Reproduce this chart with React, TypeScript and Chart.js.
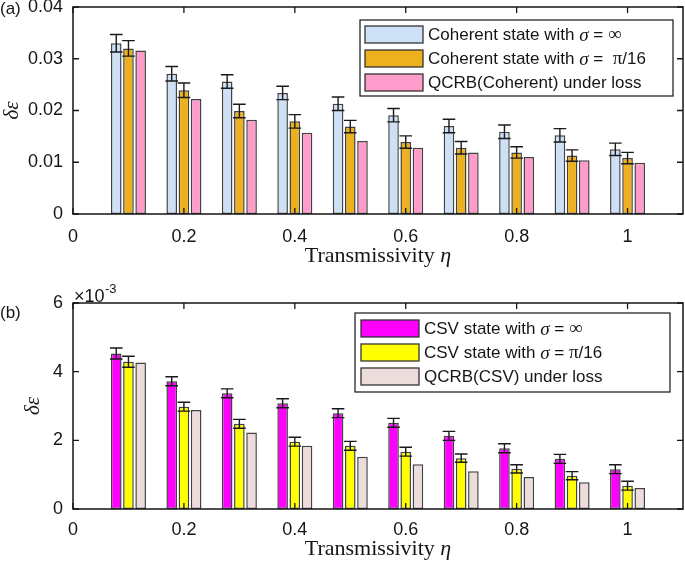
import React, { useEffect, useRef } from 'react';
import { Chart, registerables } from 'chart.js';

Chart.register(...registerables);

// ---------- data ----------
const ETA = [0.1, 0.2, 0.3, 0.4, 0.5, 0.6, 0.7, 0.8, 0.9, 1.0];
const X_TICKS = [0, 0.2, 0.4, 0.6, 0.8, 1];
const X_TITLE = ['Transmissivity ', 'η'];
const Y_TITLE = 'δε';

// Panel (a)
const COH_INF = [0.0330, 0.0271, 0.0256, 0.0234, 0.0213, 0.0191, 0.0170, 0.0159, 0.0152, 0.0125];
const COH_INF_ERR = [0.0017, 0.0014, 0.0013, 0.0013, 0.0013, 0.0013, 0.0013, 0.0013, 0.0013, 0.0012];
const COH_PI16 = [0.0320, 0.0239, 0.0199, 0.0179, 0.0169, 0.0139, 0.0128, 0.0119, 0.0113, 0.0108];
const COH_PI16_ERR = [0.0015, 0.0014, 0.0013, 0.0013, 0.0012, 0.0012, 0.0012, 0.0011, 0.0011, 0.0011];
const QCRB_COH = [0.0316, 0.0222, 0.0182, 0.0157, 0.0141, 0.0128, 0.0119, 0.0110, 0.0104, 0.0099];
const A_Y_TICKS = [0, 0.01, 0.02, 0.03, 0.04];

// Panel (b), values in units of 1e-3
const CSV_INF = [4.53, 3.72, 3.37, 3.08, 2.79, 2.51, 2.13, 1.77, 1.46, 1.16];
const CSV_INF_ERR = [0.16, 0.13, 0.13, 0.13, 0.13, 0.13, 0.13, 0.13, 0.13, 0.13];
const CSV_PI16 = [4.29, 2.98, 2.48, 1.96, 1.84, 1.67, 1.48, 1.17, 0.97, 0.68];
const CSV_PI16_ERR = [0.16, 0.13, 0.13, 0.13, 0.13, 0.13, 0.12, 0.12, 0.12, 0.13];
const QCRB_CSV = [4.27, 2.88, 2.23, 1.84, 1.52, 1.30, 1.10, 0.93, 0.78, 0.61];
const B_Y_TICKS = [0, 2, 4, 6];

// ---------- styles ----------
const SANS = '"Liberation Sans", Arial, Helvetica, sans-serif';
const SERIF = '"Liberation Serif", "Times New Roman", serif';
const INK = '#151515';
const BAR_EDGE = 'rgba(45,45,45,0.9)';

type Seg = { t: string; f: string };
const sans = (t: string): Seg => ({ t, f: `17px ${SANS}` });
const sig = (): Seg => ({ t: 'σ', f: `italic 19px ${SERIF}` });
const ser = (t: string): Seg => ({ t, f: `19px ${SERIF}` });

const PANEL_A = {
  tag: '(a)', tagY: 9,
  yMax: 0.04, yTicks: A_Y_TICKS, yFmt: (v: number) => String(+v.toFixed(2)),
  padTop: 7, xAxisH: 56, xTickPad: 12, xTitleY: 256, yTitlePad: 0,
  exponent: false,
  legend: { rightInset: 10, topInset: 13, width: 313, height: 76, firstRow: 14.5, swatchInset: 5 },
  series: [
    { values: COH_INF, errors: COH_INF_ERR, color: '#cde0f6', label: [sans('Coherent state with '), sig(), sans(' = '), ser('∞')] },
    { values: COH_PI16, errors: COH_PI16_ERR, color: '#edb120', label: [sans('Coherent state with '), sig(), sans(' =  '), ser('π'), sans('/16')] },
    { values: QCRB_COH, errors: null, color: '#ff9ccc', label: [sans('QCRB(Coherent) under loss')] },
  ],
};

const PANEL_B = {
  tag: '(b)', tagY: 43,
  yMax: 6, yTicks: B_Y_TICKS, yFmt: (v: number) => String(v),
  padTop: 33, xAxisH: 57, xTickPad: 10, xTitleY: 279, yTitlePad: 21,
  exponent: true,
  legend: { rightInset: 13, topInset: 10, width: 315, height: 79, firstRow: 15.5, swatchInset: 6 },
  series: [
    { values: CSV_INF, errors: CSV_INF_ERR, color: '#ff00ff', label: [sans('CSV state with '), sig(), sans(' = '), ser('∞')] },
    { values: CSV_PI16, errors: CSV_PI16_ERR, color: '#ffff00', label: [sans('CSV state with '), sig(), sans(' = '), ser('π'), sans('/16')] },
    { values: QCRB_CSV, errors: null, color: '#eddcdc', label: [sans('QCRB(CSV) under loss')] },
  ],
};

// ---------- plugins ----------
const errorBarPlugin = {
  id: 'errorBars',
  afterDatasetsDraw(chart: any) {
    const ctx = chart.ctx;
    const ys = chart.scales.y;
    chart.data.datasets.forEach((ds: any, i: number) => {
      const errs = ds.errors;
      if (!errs) return;
      const meta = chart.getDatasetMeta(i);
      meta.data.forEach((bar: any, j: number) => {
        const v = ds.data[j].y;
        const e = errs[j];
        const yTop = ys.getPixelForValue(v + e);
        const yBot = ys.getPixelForValue(v - e);
        const x = bar.x;
        const hw = bar.width / 2 + 1;
        ctx.save();
        ctx.strokeStyle = '#1a1a1a';
        ctx.lineWidth = 1.4;
        ctx.beginPath();
        ctx.moveTo(x, yTop); ctx.lineTo(x, yBot);
        ctx.moveTo(x - hw, yTop); ctx.lineTo(x + hw, yTop);
        ctx.moveTo(x - hw, yBot); ctx.lineTo(x + hw, yBot);
        ctx.stroke();
        ctx.restore();
      });
    });
  },
};

const framePlugin = {
  id: 'frame',
  afterDraw(chart: any, _args: any, opts: any) {
    const { ctx, chartArea: a, scales } = chart;
    const xs = scales.x, ys = scales.y;
    const p = opts.panel;
    ctx.save();
    // box
    ctx.strokeStyle = INK;
    ctx.lineWidth = 1.5;
    ctx.strokeRect(a.left, a.top, a.right - a.left, a.bottom - a.top);
    // inward ticks
    const L = 6;
    ctx.lineWidth = 1.3;
    ctx.beginPath();
    xs.ticks.forEach((t: any) => {
      const px = xs.getPixelForValue(t.value);
      ctx.moveTo(px, a.bottom); ctx.lineTo(px, a.bottom - L);
      ctx.moveTo(px, a.top); ctx.lineTo(px, a.top + L);
    });
    ys.ticks.forEach((t: any) => {
      const py = ys.getPixelForValue(t.value);
      ctx.moveTo(a.left, py); ctx.lineTo(a.left + L, py);
      ctx.moveTo(a.right, py); ctx.lineTo(a.right - L, py);
    });
    ctx.stroke();

    ctx.fillStyle = INK;
    ctx.textAlign = 'left';

    // x-axis title (upright text + italic eta)
    ctx.textBaseline = 'middle';
    const f1 = `22px ${SERIF}`;
    const f2 = `italic 22px ${SERIF}`;
    ctx.font = f1;
    const w1 = ctx.measureText(X_TITLE[0]).width;
    ctx.font = f2;
    const w2 = ctx.measureText(X_TITLE[1]).width;
    const cx = (a.left + a.right) / 2;
    let tx0 = cx - (w1 + w2) / 2;
    ctx.font = f1;
    ctx.fillText(X_TITLE[0], tx0, p.xTitleY);
    ctx.font = f2;
    ctx.fillText(X_TITLE[1], tx0 + w1, p.xTitleY);

    // panel tag
    ctx.font = `17px ${SANS}`;
    ctx.fillText(p.tag, 0, p.tagY);

    // exponent
    if (p.exponent) {
      ctx.textBaseline = 'alphabetic';
      ctx.font = `18px ${SANS}`;
      const x0 = a.left + 1;
      const base = a.top - 1;
      ctx.fillText('×10', x0, base);
      const w = ctx.measureText('×10').width;
      ctx.font = `13px ${SANS}`;
      ctx.fillText('-3', x0 + w + 0.5, base - 9);
    }

    // legend
    const lg = p.legend;
    const bx = a.right - lg.rightInset - lg.width;
    const by = a.top + lg.topInset;
    ctx.fillStyle = '#ffffff';
    ctx.fillRect(bx, by, lg.width, lg.height);
    ctx.strokeStyle = INK;
    ctx.lineWidth = 1.2;
    ctx.strokeRect(bx, by, lg.width, lg.height);
    chart.data.datasets.forEach((ds: any, i: number) => {
      const cy = by + lg.firstRow + i * 24;
      const sx = bx + lg.swatchInset;
      ctx.fillStyle = ds.backgroundColor;
      ctx.fillRect(sx, cy - 8.5, 58, 17);
      ctx.strokeStyle = BAR_EDGE;
      ctx.lineWidth = 1.4;
      ctx.strokeRect(sx, cy - 8.5, 58, 17);
      let tx = sx + 58 + 5;
      ctx.fillStyle = INK;
      ctx.textBaseline = 'middle';
      (ds.legendSegs as Seg[]).forEach((s) => {
        ctx.font = s.f;
        ctx.fillText(s.t, tx, cy + 1);
        tx += ctx.measureText(s.t).width;
      });
    });
    ctx.restore();
  },
};

function makeChart(canvas: HTMLCanvasElement, p: any) {
  const tickFont = { family: SANS, size: 18 };
  return new Chart(canvas, {
    type: 'bar',
    data: {
      datasets: p.series.map((s: any) => ({
        label: s.label.map((g: Seg) => g.t).join(''),
        legendSegs: s.label,
        data: ETA.map((x, i) => ({ x, y: s.values[i] })),
        errors: s.errors,
        backgroundColor: s.color,
        borderColor: BAR_EDGE,
        borderWidth: 1.5,
        borderSkipped: false,
        categoryPercentage: 0.66,
        barPercentage: 0.87,
      })),
    },
    options: {
      responsive: false,
      animation: false,
      devicePixelRatio: 1,
      layout: { padding: { top: p.padTop, right: 2, left: 0, bottom: 0 } },
      plugins: {
        legend: { display: false },
        tooltip: { enabled: false },
        frame: { panel: p },
      },
      scales: {
        x: {
          type: 'linear',
          min: 0,
          max: 1.1,
          offset: false,
          grid: { display: false, drawTicks: false },
          border: { display: false },
          ticks: {
            font: tickFont,
            color: INK,
            padding: p.xTickPad,
            autoSkip: false,
            maxRotation: 0,
            callback: (v: any) => String(Math.round(Number(v) * 10) / 10),
          },
          afterBuildTicks: (s: any) => { s.ticks = X_TICKS.map((value) => ({ value })); },
          afterFit: (s: any) => { s.height = p.xAxisH; s.paddingLeft = 0; s.paddingRight = 0; },
          title: { display: false },
        },
        y: {
          type: 'linear',
          min: 0,
          max: p.yMax,
          grid: { display: false, drawTicks: false },
          border: { display: false },
          ticks: {
            font: tickFont,
            color: INK,
            padding: 10,
            autoSkip: false,
            callback: (v: any) => p.yFmt(Number(v)),
          },
          afterBuildTicks: (s: any) => { s.ticks = p.yTicks.map((value: number) => ({ value })); },
          afterFit: (s: any) => { s.width = 73; s.paddingTop = 0; s.paddingBottom = 0; },
          title: {
            display: true,
            text: Y_TITLE,
            color: INK,
            font: { family: SERIF, size: 21, style: 'italic' },
            padding: { top: p.yTitlePad, bottom: 0 },
          },
        },
      },
    } as any,
    plugins: [errorBarPlugin, framePlugin],
  } as any);
}

export default function App() {
  const refA = useRef<HTMLCanvasElement>(null);
  const refB = useRef<HTMLCanvasElement>(null);
  useEffect(() => {
    const a = makeChart(refA.current!, PANEL_A);
    const b = makeChart(refB.current!, PANEL_B);
    return () => { a.destroy(); b.destroy(); };
  }, []);
  return (
    <div style={{ position: 'absolute', left: 0, top: 0, width: 685, height: 566, background: '#fff' }}>
      <canvas ref={refA} width={685} height={270} style={{ position: 'absolute', left: 0, top: 0, width: 685, height: 270 }} />
      <canvas ref={refB} width={685} height={296} style={{ position: 'absolute', left: 0, top: 270, width: 685, height: 296 }} />
    </div>
  );
}
